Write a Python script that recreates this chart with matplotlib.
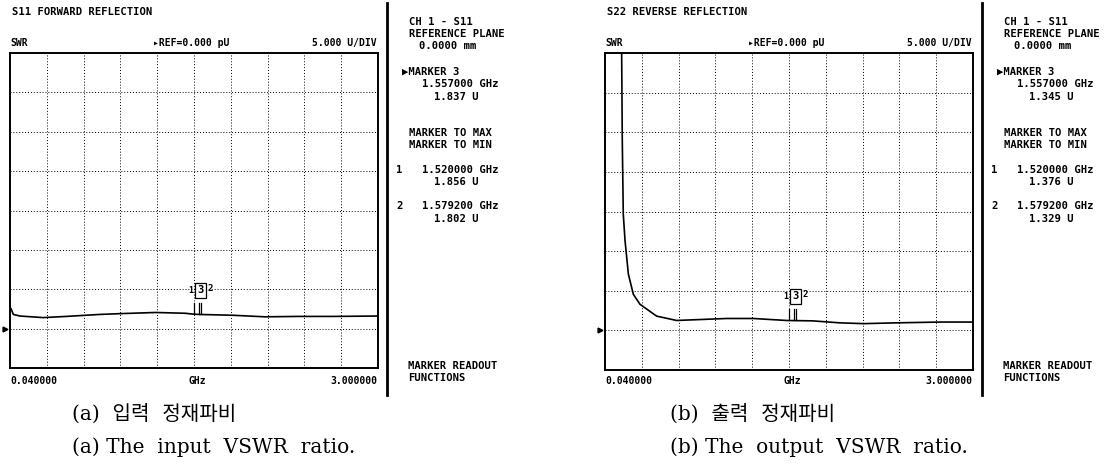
import numpy as np
import matplotlib
matplotlib.use("Agg")
from matplotlib import pyplot as plt
from matplotlib.lines import Line2D

# Trace data (GHz, divisions above the REF line)
freq_s11 = [0.04, 0.048, 0.067, 0.12, 0.307, 0.493, 0.76, 0.92, 1.21, 1.45, 1.507,
            1.56, 1.827, 2.09, 2.36, 2.63, 3.0]
swr_s11 = [0.50, 0.51, 0.36, 0.32, 0.28, 0.31, 0.36, 0.38, 0.41, 0.39, 0.37,
           0.36, 0.34, 0.30, 0.31, 0.31, 0.32]

freq_s22 = [0.04, 0.15, 0.174, 0.179, 0.187, 0.201, 0.228, 0.268, 0.321, 0.455, 0.616,
            0.777, 1.018, 1.232, 1.50, 1.71, 1.93, 2.12, 2.38, 2.74, 3.0]
swr_s22 = [14.0, 9.0, 7.0, 4.8, 2.94, 2.27, 1.42, 0.91, 0.66, 0.36, 0.25,
           0.27, 0.30, 0.30, 0.25, 0.24, 0.19, 0.17, 0.19, 0.21, 0.21]

marker_freqs = [1.52, 1.557, 1.5792]
marker_lvl_s11 = [0.37, 0.36, 0.36]
marker_lvl_s22 = [0.26, 0.26, 0.25]

titles = ["S11 FORWARD REFLECTION", "S22 REVERSE REFLECTION"]
m3_text = [["1.557000 GHz", "1.837 U"], ["1.557000 GHz", "1.345 U"]]
m1_text = [["1.520000 GHz", "1.856 U"], ["1.520000 GHz", "1.376 U"]]
m2_text = [["1.579200 GHz", "1.802 U"], ["1.579200 GHz", "1.329 U"]]
captions_kr = ["(a)  입력  정재파비", "(b)  출력  정재파비"]
captions_en = ["(a) The  input  VSWR  ratio.", "(b) The  output  VSWR  ratio."]

W, H = 1105, 470
fig = plt.figure(figsize=(W / 100, H / 100), dpi=100)
mono = dict(family="DejaVu Sans Mono", weight="bold", size=7.6, color="black")


def ftext(x, y, s, ha="left", **kw):
    style = dict(mono)
    style.update(kw)
    fig.text(x / W, 1 - y / H, s, ha=ha, va="center", **style)


panels = [
    dict(x0=10, top=53, bot=368, w=368, f=freq_s11, v=swr_s11, ml=marker_lvl_s11,
         sep=387, side=405, capx=72),
    dict(x0=605, top=53, bot=370, w=368, f=freq_s22, v=swr_s22, ml=marker_lvl_s22,
         sep=982, side=1000, capx=670),
]

for i, p in enumerate(panels):
    ax = fig.add_axes([p["x0"] / W, 1 - p["bot"] / H, p["w"] / W, (p["bot"] - p["top"]) / H])
    ax.set_xlim(0.04, 3.0)
    ax.set_ylim(-1, 7)
    ax.set_xticks(np.linspace(0.04, 3.0, 11))
    ax.set_yticks(np.arange(-1, 8))
    ax.tick_params(length=0, labelbottom=False, labelleft=False)
    ax.grid(True, ls=(0, (1, 2)), color="black", lw=0.7)
    for s in ax.spines.values():
        s.set_linewidth(1.4)
    ax.plot(p["f"], p["v"], color="black", lw=1.2)

    # markers 1, 3, 2
    for f, lv in zip(marker_freqs, p["ml"]):
        ax.plot([f, f], [lv, lv + 0.28], color="black", lw=0.9)
    top = max(p["ml"]) + 0.6
    ax.text(marker_freqs[0] - 0.005, top, "1", ha="right", va="center", **dict(mono, size=6))
    ax.text(marker_freqs[1] + 0.015, top, "3", ha="center", va="center",
            bbox=dict(boxstyle="square,pad=0.25", fc="white", ec="black", lw=0.9), **mono)
    ax.text(marker_freqs[2] + 0.05, top + 0.05, "2", ha="left", va="center", **dict(mono, size=6.5))

    # REF arrow at left
    ax.plot([-0.014], [0], marker=">", ms=3.5, color="black",
            transform=ax.get_yaxis_transform(), clip_on=False)

    x0, x1 = p["x0"], p["x0"] + p["w"]
    ftext(x0 + 2 if i == 1 else 12, 12, titles[i])
    ftext(x0, 43, "SWR", size=7)
    ftext(x0 + 143, 43, "\u25b8REF=0.000 pU", size=7)
    ftext(x1 - 1, 43, "5.000 U/DIV", ha="right", size=7)
    ftext(x0, 381, "0.040000", size=7)
    ftext(x0 + 187, 381, "GHz", ha="center", size=7)
    ftext(x1 - 1, 381, "3.000000", ha="right", size=7)

    fig.add_artist(Line2D([p["sep"] / W] * 2, [1 - 3 / H, 1 - 395 / H], color="black", lw=2))

    sx = p["side"]
    ftext(sx + 4, 22, "CH 1 - S11")
    ftext(sx + 4, 34, "REFERENCE PLANE")
    ftext(sx + 14, 46, "0.0000 mm")
    ftext(sx - 3, 72, "\u25b6MARKER 3")
    ftext(sx + 17, 84, m3_text[i][0])
    ftext(sx + 74, 97, m3_text[i][1], ha="right")
    ftext(sx + 4, 133, "MARKER TO MAX")
    ftext(sx + 4, 145, "MARKER TO MIN")
    ftext(sx - 9, 170, "1")
    ftext(sx + 17, 170, m1_text[i][0])
    ftext(sx + 74, 182, m1_text[i][1], ha="right")
    ftext(sx - 9, 206, "2")
    ftext(sx + 17, 206, m2_text[i][0])
    ftext(sx + 74, 219, m2_text[i][1], ha="right")
    ftext(sx + 3, 366, "MARKER READOUT")
    ftext(sx + 3, 378, "FUNCTIONS")

    cx = p["capx"]
    cap = dict(family=["DejaVu Serif", "Noto Sans CJK KR"], size=14.5, color="black",
               va="center", ha="left")
    fig.text(cx / W, 1 - 414 / H, captions_kr[i], **cap)
    fig.text(cx / W, 1 - 447 / H, captions_en[i], **cap)

fig.savefig("out.png", dpi=100, facecolor="white")
